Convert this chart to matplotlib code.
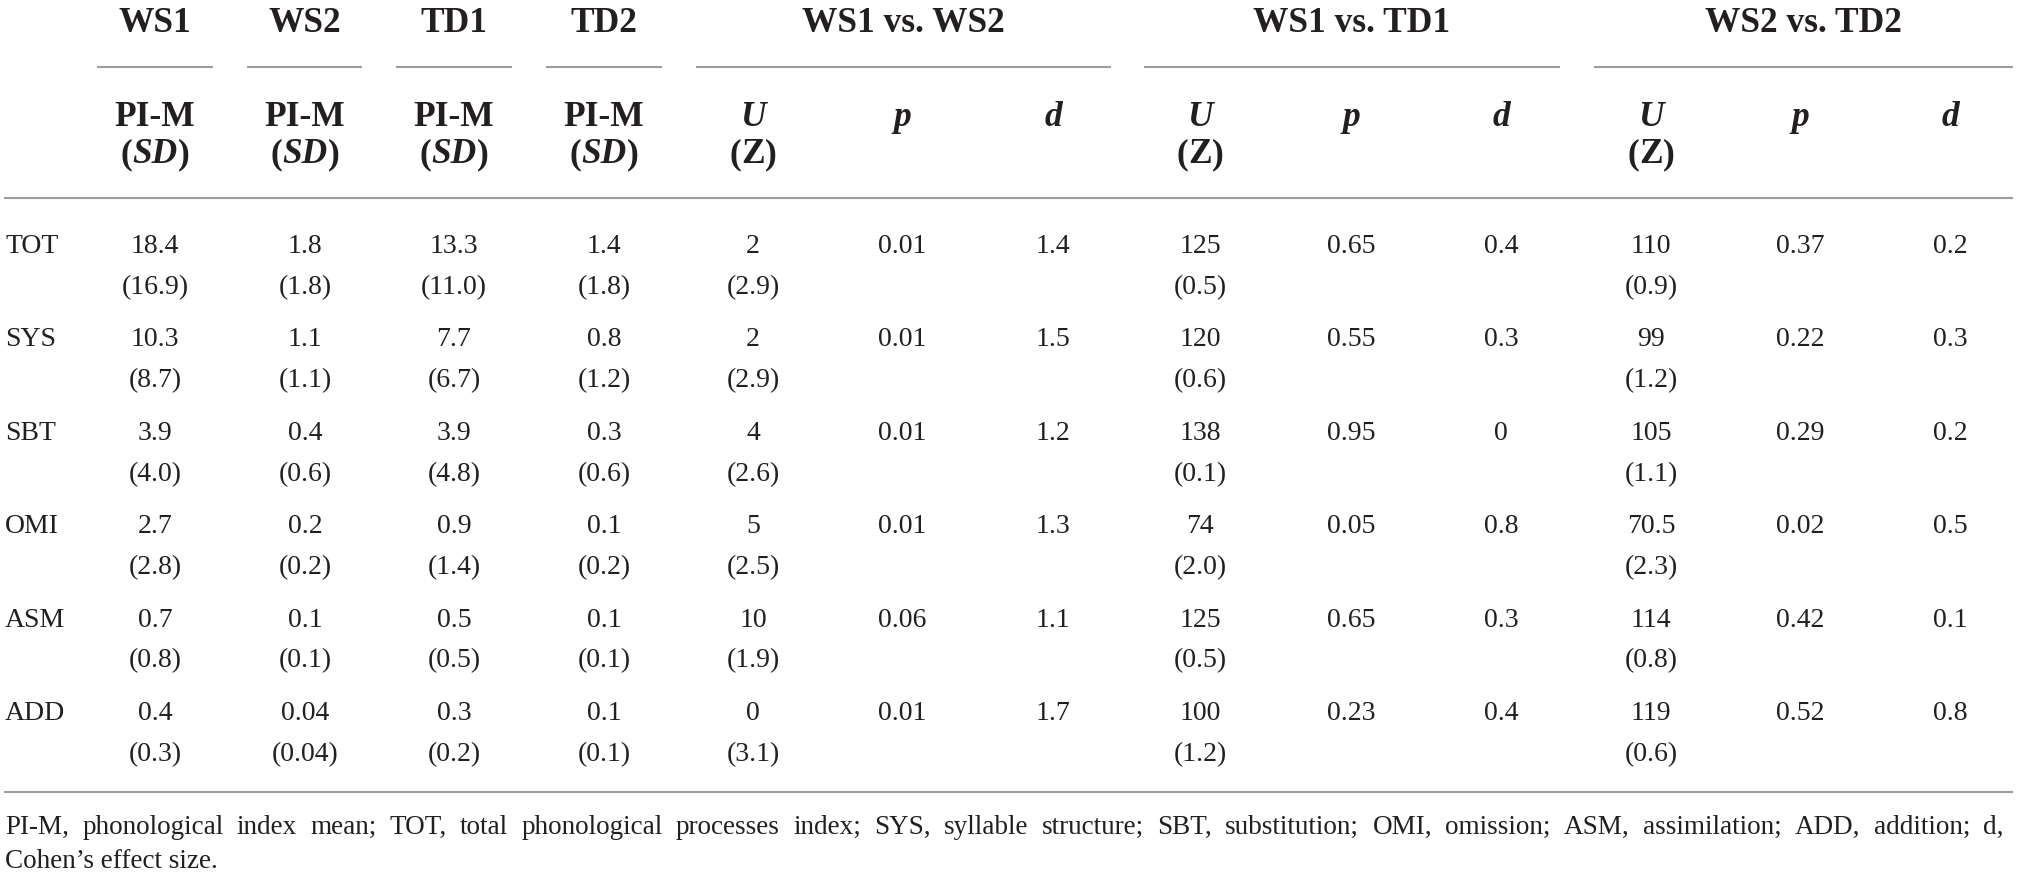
import matplotlib
matplotlib.use('Agg')
import matplotlib.pyplot as plt

W, H = 2019, 876
FONT = 'Liberation Serif'
INK = '#231f20'
RULE = '#9d9d9d'

# Data (strings kept as printed in the table)
rows = ['TOT', 'SYS', 'SBT', 'OMI', 'ASM', 'ADD']

groups = ['WS1', 'WS2', 'TD1', 'TD2']
ws1_m = ['18.4', '10.3', '3.9', '2.7', '0.7', '0.4']
ws1_sd = ['16.9', '8.7', '4.0', '2.8', '0.8', '0.3']
ws2_m = ['1.8', '1.1', '0.4', '0.2', '0.1', '0.04']
ws2_sd = ['1.8', '1.1', '0.6', '0.2', '0.1', '0.04']
td1_m = ['13.3', '7.7', '3.9', '0.9', '0.5', '0.3']
td1_sd = ['11.0', '6.7', '4.8', '1.4', '0.5', '0.2']
td2_m = ['1.4', '0.8', '0.3', '0.1', '0.1', '0.1']
td2_sd = ['1.8', '1.2', '0.6', '0.2', '0.1', '0.1']

comparisons = ['WS1 vs. WS2', 'WS1 vs. TD1', 'WS2 vs. TD2']
u_ws1_ws2 = ['2', '2', '4', '5', '10', '0']
z_ws1_ws2 = ['2.9', '2.9', '2.6', '2.5', '1.9', '3.1']
p_ws1_ws2 = ['0.01', '0.01', '0.01', '0.01', '0.06', '0.01']
d_ws1_ws2 = ['1.4', '1.5', '1.2', '1.3', '1.1', '1.7']

u_ws1_td1 = ['125', '120', '138', '74', '125', '100']
z_ws1_td1 = ['0.5', '0.6', '0.1', '2.0', '0.5', '1.2']
p_ws1_td1 = ['0.65', '0.55', '0.95', '0.05', '0.65', '0.23']
d_ws1_td1 = ['0.4', '0.3', '0', '0.8', '0.3', '0.4']

u_ws2_td2 = ['110', '99', '105', '70.5', '114', '119']
z_ws2_td2 = ['0.9', '1.2', '1.1', '2.3', '0.8', '0.6']
p_ws2_td2 = ['0.37', '0.22', '0.29', '0.02', '0.42', '0.52']
d_ws2_td2 = ['0.2', '0.3', '0.2', '0.5', '0.1', '0.8']

note_1 = ("PI-M, phonological index mean; TOT, total phonological processes index; "
          "SYS, syllable structure; SBT, substitution; OMI, omission; ASM, assimilation; "
          "ADD, addition; d,")
note_2 = "Cohen\u2019s effect size."

# Layout (pixels)
desc_x = [155, 305, 454, 604]
desc_rule = [(97, 213), (247, 362), (396, 512), (546, 662)]
comp_x = [(753, 902, 1053), (1200, 1351, 1501), (1651, 1800, 1950)]
comp_rule = [(696, 1111), (1144, 1560), (1594, 2013)]

fig = plt.figure(figsize=(W / 100, H / 100), dpi=100)
ax = fig.add_axes([0, 0, 1, 1])
ax.set_xlim(0, W)
ax.set_ylim(H, 0)
ax.axis('off')
renderer = fig.canvas.get_renderer()

HEAD = 25.5
BODY = 20
NOTE = 19.5


def text_width(s, **kw):
    t = ax.text(0, 0, s, family=FONT, **kw)
    w = t.get_window_extent(renderer).width
    t.remove()
    return w


def mixed(x, y, parts, size):
    # parts: (string, fontstyle), all bold, centred on x
    ws = [text_width(s, fontsize=size, fontweight='bold', fontstyle=st) for s, st in parts]
    cur = x - sum(ws) / 2
    for (s, st), w in zip(parts, ws):
        ax.text(cur, y, s, family=FONT, fontsize=size, fontweight='bold',
                fontstyle=st, color=INK, ha='left', va='baseline')
        cur += w


def hline(x0, x1, y):
    ax.plot([x0, x1], [y, y], color=RULE, lw=1.5, solid_capstyle='butt')


# Header
for name, x, (r0, r1) in zip(groups, desc_x, desc_rule):
    ax.text(x, 32, name, family=FONT, fontsize=HEAD, fontweight='bold',
            color=INK, ha='center', va='baseline')
    hline(r0, r1, 67)
    ax.text(x, 126, 'PI-M', family=FONT, fontsize=HEAD, fontweight='bold',
            color=INK, ha='center', va='baseline')
    mixed(x, 163, [('(', 'normal'), ('SD', 'italic'), (')', 'normal')], HEAD)

for name, (xu, xp, xd), (r0, r1) in zip(comparisons, comp_x, comp_rule):
    ax.text((r0 + r1) / 2, 32, name, family=FONT, fontsize=HEAD, fontweight='bold',
            color=INK, ha='center', va='baseline')
    hline(r0, r1, 67)
    for x, lab in [(xu, 'U'), (xp, 'p'), (xd, 'd')]:
        ax.text(x, 126, lab, family=FONT, fontsize=HEAD, fontweight='bold',
                fontstyle='italic', color=INK, ha='center', va='baseline')
    mixed(xu, 163, [('(', 'normal'), ('Z', 'normal'), (')', 'normal')], HEAD)

hline(4, 2013, 198)

# Body
desc_cols = [(ws1_m, ws1_sd), (ws2_m, ws2_sd), (td1_m, td1_sd), (td2_m, td2_sd)]
comp_cols = [(u_ws1_ws2, z_ws1_ws2, p_ws1_ws2, d_ws1_ws2),
             (u_ws1_td1, z_ws1_td1, p_ws1_td1, d_ws1_td1),
             (u_ws2_td2, z_ws2_td2, p_ws2_td2, d_ws2_td2)]

body = dict(family=FONT, fontsize=BODY, color=INK, va='baseline')
for i, lab in enumerate(rows):
    y = 253 + i * 93.4
    ax.text(5, y, lab, ha='left', **body)
    for x, (m, sd) in zip(desc_x, desc_cols):
        ax.text(x, y, m[i], ha='center', **body)
        ax.text(x, y + 41, '(' + sd[i] + ')', ha='center', **body)
    for (xu, xp, xd), (u, z, p, d) in zip(comp_x, comp_cols):
        ax.text(xu, y, u[i], ha='center', **body)
        ax.text(xu, y + 41, '(' + z[i] + ')', ha='center', **body)
        ax.text(xp, y, p[i], ha='center', **body)
        ax.text(xd, y, d[i], ha='center', **body)

hline(4, 2013, 792)

# Footnote, first line justified
words = note_1.split(' ')
ww = [text_width(w, fontsize=NOTE) for w in words]
left, right = 5, 2004
gap = (right - left - sum(ww)) / (len(words) - 1)
cur = left
for w, wd in zip(words, ww):
    ax.text(cur, 834, w, family=FONT, fontsize=NOTE, color=INK, ha='left', va='baseline')
    cur += wd + gap
ax.text(left, 868, note_2, family=FONT, fontsize=NOTE, color=INK, ha='left', va='baseline')

fig.savefig('out.png', dpi=100, facecolor='white')
